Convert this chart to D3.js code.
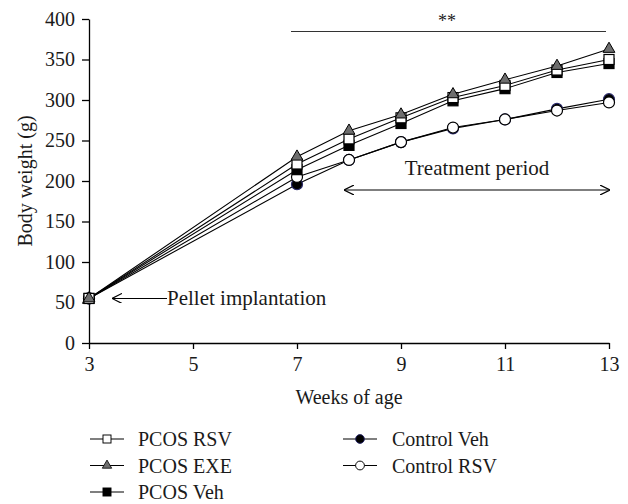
<!DOCTYPE html>
<html>
<head>
<meta charset="utf-8">
<script src="https://cdn.jsdelivr.net/npm/d3@7"></script>
<style>
  body { margin: 0; background: #fff; }
  text { font-family: "Liberation Serif", "DejaVu Serif", serif; fill: #1a1a1a; }
</style>
</head>
<body>
<svg id="chart" width="628" height="504"></svg>
<script>
let weeks = [3, 7, 8, 9, 10, 11, 12, 13];

let pcosRsv = [55, 221, 252, 278, 303, 318, 337, 350];
let pcosExe = [55, 230, 262, 282, 307, 325, 342, 363];
let pcosVeh = [55, 214, 244, 271, 299, 314, 334, 345];
let controlVeh = [55, 196, 226, 248, 265, 276, 289, 301];
let controlRsv = [55, 205, 226, 248, 266, 276, 287, 297];

let xTicks = [3, 5, 7, 9, 11, 13];
let yTicks = [0, 50, 100, 150, 200, 250, 300, 350, 400];

let series = [
  { name: 'Control Veh', values: controlVeh, shape: 'circle', fill: '#000', stroke: '#2a2a6a' },
  { name: 'Control RSV', values: controlRsv, shape: 'circle', fill: '#fff', stroke: '#000' },
  { name: 'PCOS Veh', values: pcosVeh, shape: 'square', fill: '#000', stroke: '#000' },
  { name: 'PCOS RSV', values: pcosRsv, shape: 'square', fill: '#fff', stroke: '#000' },
  { name: 'PCOS EXE', values: pcosExe, shape: 'triangle', fill: '#6e6e6e', stroke: '#000' }
];

let svg = d3.select('#chart');

let x = d3.scaleLinear().domain([3, 13]).range([89, 609]);
let y = d3.scaleLinear().domain([0, 400]).range([343, 19]);

let drawMarker = (g, shape, fill, stroke) => {
  if (shape === 'circle') {
    g.append('circle').attr('r', 5.5).attr('fill', fill).attr('stroke', stroke).attr('stroke-width', 1.2);
  } else if (shape === 'square') {
    g.append('rect').attr('x', -5).attr('y', -5).attr('width', 10).attr('height', 10)
      .attr('fill', fill).attr('stroke', stroke).attr('stroke-width', 1.2);
  } else {
    g.append('path').attr('d', d3.symbol(d3.symbolTriangle, 60)())
      .attr('fill', fill).attr('stroke', stroke).attr('stroke-width', 1);
  }
};

// axes
let xAxis = svg.append('g')
  .attr('transform', 'translate(0,343)')
  .call(d3.axisBottom(x).tickValues(xTicks).tickSize(6).tickPadding(8).tickSizeOuter(0));
let yAxis = svg.append('g')
  .attr('transform', 'translate(89,0)')
  .call(d3.axisLeft(y).tickValues(yTicks).tickSize(7).tickPadding(7).tickSizeOuter(0));

[xAxis, yAxis].forEach((a) => {
  a.select('.domain').attr('stroke', '#000').attr('stroke-width', 1.3);
  a.selectAll('.tick line').attr('stroke', '#000').attr('stroke-width', 1.3);
  a.selectAll('.tick text').style('font-size', '20px').attr('fill', '#1a1a1a')
    .style('font-family', '"Liberation Serif", serif');
});

svg.append('text')
  .attr('transform', 'translate(32,181) rotate(-90)')
  .attr('text-anchor', 'middle')
  .style('font-size', '20px')
  .text('Body weight (g)');

svg.append('text')
  .attr('x', 349).attr('y', 404)
  .attr('text-anchor', 'middle')
  .style('font-size', '20px')
  .text('Weeks of age');

// lines
let line = d3.line().x((d, i) => x(weeks[i])).y((d) => y(d));

series.forEach((s) => {
  svg.append('path')
    .datum(s.values)
    .attr('d', line)
    .attr('fill', 'none')
    .attr('stroke', '#000')
    .attr('stroke-width', 1.1);
});

series.forEach((s) => {
  svg.selectAll(null)
    .data(s.values)
    .enter()
    .append('g')
    .attr('transform', (d, i) => 'translate(' + x(weeks[i]) + ',' + y(d) + ')')
    .each(function () { drawMarker(d3.select(this), s.shape, s.fill, s.stroke); });
});

// arrow heads
let defs = svg.append('defs');
defs.append('marker')
  .attr('id', 'arrow')
  .attr('viewBox', '0 0 10 10')
  .attr('refX', 9).attr('refY', 5)
  .attr('markerWidth', 10).attr('markerHeight', 10)
  .attr('markerUnits', 'userSpaceOnUse')
  .attr('orient', 'auto-start-reverse')
  .append('path')
  .attr('d', 'M0,0 L10,5 L0,10')
  .attr('fill', 'none')
  .attr('stroke', '#000')
  .attr('stroke-width', 1.2);

// significance bar
svg.append('line')
  .attr('x1', 291).attr('x2', 606)
  .attr('y1', 31.5).attr('y2', 31.5)
  .attr('stroke', '#333').attr('stroke-width', 1.2);
svg.append('text')
  .attr('x', 447).attr('y', 27)
  .attr('text-anchor', 'middle')
  .style('font-size', '18px')
  .text('**');

// treatment period
svg.append('line')
  .attr('x1', x(8) - 4).attr('x2', x(13))
  .attr('y1', 190).attr('y2', 190)
  .attr('stroke', '#000').attr('stroke-width', 1.1)
  .attr('marker-start', 'url(#arrow)')
  .attr('marker-end', 'url(#arrow)');
svg.append('text')
  .attr('x', 477).attr('y', 175)
  .attr('text-anchor', 'middle')
  .style('font-size', '21px')
  .text('Treatment period');

// pellet implantation
svg.append('line')
  .attr('x1', 167).attr('x2', 113)
  .attr('y1', y(55)).attr('y2', y(55))
  .attr('stroke', '#000').attr('stroke-width', 1.1)
  .attr('marker-end', 'url(#arrow)');
svg.append('text')
  .attr('x', 167).attr('y', 305)
  .style('font-size', '21px')
  .text('Pellet implantation');

// legend
let legendItems = [
  { s: series[3], col: 0, row: 0 },
  { s: series[4], col: 0, row: 1 },
  { s: series[2], col: 0, row: 2 },
  { s: series[0], col: 1, row: 0 },
  { s: series[1], col: 1, row: 1 }
];

legendItems.forEach((item) => {
  let lx = item.col === 0 ? 90 : 343;
  let tx = item.col === 0 ? 48 : 49;
  let ly = 439 + item.row * 26.5;
  let g = svg.append('g').attr('transform', 'translate(' + lx + ',' + ly + ')');
  g.append('line').attr('x1', 0).attr('x2', 34).attr('y1', 0).attr('y2', 0)
    .attr('stroke', '#000').attr('stroke-width', 1.2);
  let m = g.append('g').attr('transform', 'translate(17,0) scale(0.8)');
  drawMarker(m, item.s.shape, item.s.fill, item.s.stroke);
  g.append('text')
    .attr('x', tx).attr('y', 7)
    .style('font-size', '20px')
    .text(item.s.name);
});
</script>
</body>
</html>
